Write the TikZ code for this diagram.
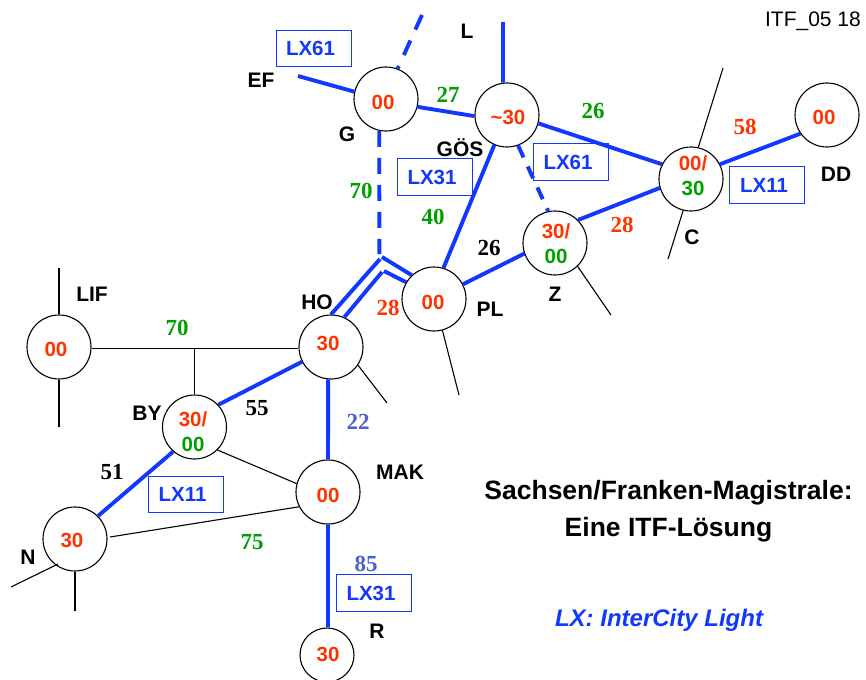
\documentclass[tikz,border=0pt]{standalone}
\usepackage{fontspec}
\setmainfont{Liberation Sans}
\newfontfamily\serifnum{Liberation Serif}
\definecolor{lblue}{HTML}{1238FF}
\definecolor{lred}{HTML}{FF3300}
\definecolor{lgreen}{HTML}{009F00}
\definecolor{lperi}{HTML}{4F5FD0}
\tikzset{
  stn/.style={circle,draw=black,line width=1.1pt,minimum size=64pt,inner sep=0pt},
  smallstn/.style={stn,minimum size=54pt},
  num/.style={inner sep=0pt,font=\fontsize{20.5}{25}\selectfont\bfseries,text=lred,align=center},
  main/.style={draw=lblue,line width=3.9pt},
  thin/.style={draw=black,line width=1.1pt},
  lxbox/.style={draw=lblue,line width=1pt,minimum width=75pt,minimum height=36.5pt,inner sep=0pt,text=lblue,font=\fontsize{20.5}{24}\selectfont\bfseries,execute at begin node={\hspace*{-6pt}}},
  place/.style={font=\fontsize{21}{24}\selectfont\bfseries,text=black,inner sep=0pt},
  km/.style={font=\fontsize{23}{26}\selectfont\bfseries\serifnum,inner sep=0pt},
  title/.style={font=\fontsize{26.5}{37}\selectfont\bfseries,align=center,text=black,inner sep=0pt}
}
\begin{document}
\begin{tikzpicture}[x=1pt,y=-1pt]
\useasboundingbox (0,0) rectangle (866,679);
% stations
\node[stn] (G) at (386,99) {};
\node[stn] (GOS) at (507,115) {};
\node[stn] (C) at (691,179) {};
\node[stn] (DD) at (827,115) {};
\node[stn] (Z) at (555,243) {};
\node[stn] (PL) at (434,299) {};
\node[stn] (HO) at (331,347) {};
\node[stn] (LIF) at (59,347) {};
\node[stn] (BY) at (194.5,427) {};
\node[stn] (MAK) at (328,492) {};
\node[stn] (N) at (75,539) {};
\node[smallstn] (R) at (327,655) {};
% free ends
\coordinate (efEnd) at (298,76);
\coordinate (gTop) at (422,15);
\coordinate (lEnd) at (503,22);
\coordinate (jUp) at (380,259);
\coordinate (jLow) at (382,272);
\coordinate (jUpR) at (382,257);
\coordinate (jLowR) at (384,271);
\coordinate (jDash) at (379.35,254);
\coordinate (tee) at (194.5,348);
\coordinate (lifUp) at (59,268);
\coordinate (lifDown) at (59,427);
\coordinate (cUp) at (723,68);
\coordinate (cDown) at (668,259);
\coordinate (zStub) at (611,315);
\coordinate (plStub) at (459,395);
\coordinate (hoStub) at (387,403);
\coordinate (nStubA) at (11,587);
\coordinate (nStubIn) at (58,564);
\coordinate (nStubB) at (75,611);
\coordinate (nEast) at (110,537);
% blue lines
\draw[main] (efEnd) -- (G.167);
\draw[main] (G.-14) -- (GOS.182);
\draw[main] (lEnd) -- (GOS.97);
\draw[main] (GOS.-15) -- (C.153);
\draw[main] (C.27) -- (DD.215);
\draw[main] (Z.45) -- (C.196);
\draw[main] (PL.73) -- (GOS.247);
\draw[main] (PL.27) -- (Z.199);
\draw[main] (HO.90) -- (jUp);
\draw[main] (HO.66) -- (jLow);
\draw[main] (jUpR) -- (PL.133);
\draw[main] (jLowR) -- (PL.149);
\draw[main] (BY.43) -- (HO.207);
\draw[main] (HO.265) -- (MAK.90);
\draw[main] (MAK.-90) -- (R.88);
\draw[main] (N.45) -- (BY.229);
\draw[main,dash pattern=on 16pt off 12pt] (gTop) -- (G.69);
\draw[main,dash pattern=on 13pt off 10pt] (GOS.-70) -- (Z.102);
\draw[main,dash pattern=on 16pt off 11pt] (G.258) -- (jDash);
% thin lines
\draw[thin] (LIF.-2) -- (HO.182);
\draw[thin] (tee) -- (BY.90);
\draw[thin] (lifUp) -- (LIF.90);
\draw[thin] (LIF.-90) -- (lifDown);
\draw[thin] (cUp) -- (C.77);
\draw[thin] (C.256) -- (cDown);
\draw[thin] (Z.-46) -- (zStub);
\draw[thin] (PL.-75) -- (plStub);
\draw[thin] (HO.-34) -- (hoStub);
\draw[thin] (BY.-45) -- (MAK.165);
\draw[thin] (nEast) -- (MAK.207);
\draw[thin] (nStubIn) -- (nStubA);
\draw[thin] (N.-90) -- (nStubB);
% station numbers
\node[num] (tG) at (383,102) {00};
\node[num] (tGOS) at (508,117) {\textasciitilde30};
\node[num] (tC) at (693,175.5) {00/\\\textcolor{lgreen}{30}};
\node[num] (tDD) at (824,117) {00};
\node[num] (tZ) at (556,243.5) {30/\\\textcolor{lgreen}{00}};
\node[num] (tPL) at (433,302) {00};
\node[num] (tHO) at (328,343) {30};
\node[num] (tLIF) at (56,349) {00};
\node[num] (tBY) at (193,432) {30/\\\textcolor{lgreen}{00}};
\node[num] (tMAK) at (328,495) {00};
\node[num] (tN) at (72,540) {30};
\node[num] (tR) at (328,654) {30};
% boxes
\node[lxbox] (b1) at (313.5,48.5) {LX61};
\node[lxbox] (b2) at (435,177) {LX31};
\node[lxbox] (b3) at (571,162) {LX61};
\node[lxbox] (b4) at (767,185) {LX11};
\node[lxbox] (b5) at (185.5,494.5) {LX11};
\node[lxbox] (b6) at (374,593) {LX31};
% place names
\node[place] (pEF) at (261,80) {EF};
\node[place] (pG) at (347,134) {G};
\node[place] (pL) at (467,31) {L};
\node[place] (pGOS) at (460,148) {GÖS};
\node[place] (pC) at (692,237) {C};
\node[place] (pDD) at (836,174) {DD};
\node[place] (pZ) at (555,294) {Z};
\node[place] (pPL) at (490,309) {PL};
\node[place] (pHO) at (317,302) {HO};
\node[place] (pLIF) at (92,294) {LIF};
\node[place] (pBY) at (147,413) {BY};
\node[place] (pMAK) at (400,472) {MAK};
\node[place] (pN) at (28,557) {N};
\node[place] (pR) at (377,631) {R};
% km numbers
\node[km,text=lgreen] (k27) at (448,95) {27};
\node[km,text=lgreen] (k26a) at (593,111) {26};
\node[km,text=lred] (k58) at (745,127) {58};
\node[km,text=lgreen] (k70a) at (361,191) {70};
\node[km,text=lgreen] (k40) at (433,217) {40};
\node[km,text=black] (k26b) at (489,248) {26};
\node[km,text=lred] (k28a) at (622,225) {28};
\node[km,text=lred] (k28b) at (388,308) {28};
\node[km,text=lgreen] (k70b) at (177,328) {70};
\node[km,text=black] (k55) at (257,408) {55};
\node[km,text=lperi] (k22) at (358,422) {22};
\node[km,text=black] (k51) at (112,472) {51};
\node[km,text=lgreen] (k75) at (252,542) {75};
\node[km,text=lperi] (k85) at (366,564) {85};
% texts
\node[font=\fontsize{21}{24}\selectfont,inner sep=0pt,anchor=east] (ref) at (861,21) {ITF\_05 18};
\node[title] (ttl) at (668.5,511) {Sachsen/Franken-Magistrale:\\Eine ITF-Lösung};
\node[font=\fontsize{24}{28}\selectfont\bfseries\itshape,text=lblue,inner sep=0pt] (lx) at (659,620) {LX: InterCity Light};
\end{tikzpicture}
\end{document}
